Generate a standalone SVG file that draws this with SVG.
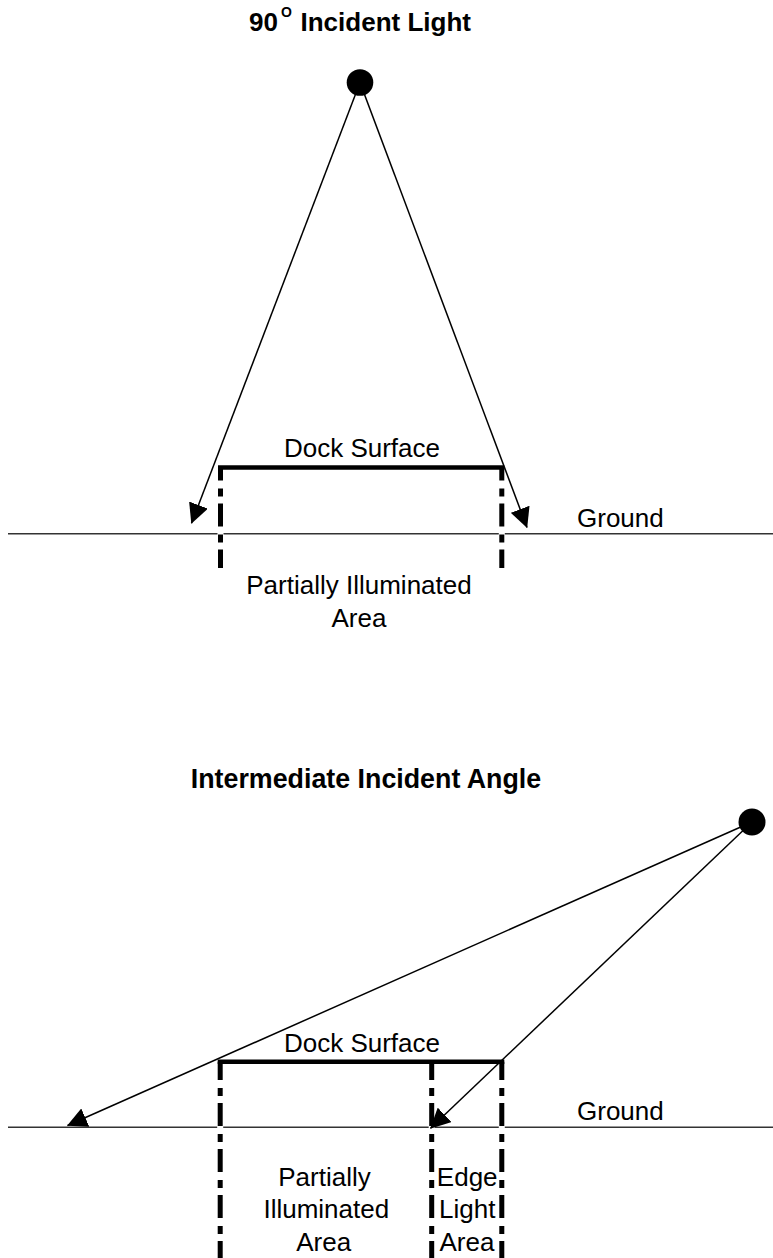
<svg xmlns="http://www.w3.org/2000/svg" width="773" height="1258" viewBox="0 0 773 1258">
<style>
.t{font-family:"Liberation Sans",Arial,Helvetica,sans-serif;font-size:26px;fill:#000}
.m{text-anchor:middle}
.b{font-weight:bold}
.ray{stroke:#000;stroke-width:1.5;fill:none;marker-end:url(#ah)}
.dock{stroke:#000;stroke-width:4.5;stroke-linecap:butt}
.edge{stroke:#000;stroke-width:5;stroke-dasharray:23 8 8 7}
.ground{stroke:#333;stroke-width:1.5}
</style>
<defs>
<marker id="ah" markerUnits="userSpaceOnUse" markerWidth="20" markerHeight="20" refX="19.5" refY="10" orient="auto" viewBox="0 0 20 20">
<path d="M0,0 L20,10 L0,20 z" fill="#000"/>
</marker>
</defs>
<rect width="773" height="1258" fill="#fff"/>

<!-- Top panel -->
<g id="title-top">
<text class="t b" x="249" y="31">90</text>
<text class="t b" x="281" y="17" style="font-size:14px">O</text>
<text class="t b" x="300.5" y="31">Incident Light</text>
</g>
<g id="ground-top">
<line class="ground" x1="8" y1="533.7" x2="217.5" y2="533.7"/>
<line class="ground" x1="223.5" y1="533.7" x2="498.8" y2="533.7"/>
<line class="ground" x1="504.8" y1="533.7" x2="773" y2="533.7"/>
<text class="t" x="577" y="527">Ground</text>
</g>
<g id="dock-top">
<line class="edge" x1="220.5" y1="467.5" x2="220.5" y2="568" stroke-dashoffset="10"/>
<line class="edge" x1="501.8" y1="467.5" x2="501.8" y2="568" stroke-dashoffset="10"/>
<line class="dock" x1="218" y1="467.5" x2="504.3" y2="467.5"/>
<text class="t m" x="362" y="457.3">Dock Surface</text>
</g>
<g id="area-top">
<text class="t m" x="359" y="594">Partially Illuminated</text>
<text class="t m" x="359" y="627">Area</text>
</g>
<g id="connectors-top">
<line class="ray" x1="360" y1="82.5" x2="191.5" y2="523.3"/>
<line class="ray" x1="360" y1="82.5" x2="527" y2="527.5"/>
</g>
<g id="light-top">
<circle cx="360" cy="82.5" r="13.3" fill="#000"/>
</g>

<!-- Bottom panel -->
<g id="title-bottom">
<text class="t b m" x="366" y="788" style="font-size:26.8px">Intermediate Incident Angle</text>
</g>
<g id="ground-bottom">
<line class="ground" x1="8" y1="1127.3" x2="217.2" y2="1127.3"/>
<line class="ground" x1="223.2" y1="1127.3" x2="428.7" y2="1127.3"/>
<line class="ground" x1="434.7" y1="1127.3" x2="498.8" y2="1127.3"/>
<line class="ground" x1="504.8" y1="1127.3" x2="773" y2="1127.3"/>
<text class="t" x="577" y="1120">Ground</text>
</g>
<g id="dock-bottom">
<line class="edge" x1="220.2" y1="1061.7" x2="220.2" y2="1258" stroke-dashoffset="4.7"/>
<line class="edge" x1="431.7" y1="1061.7" x2="431.7" y2="1258" stroke-dashoffset="4.7"/>
<line class="edge" x1="501.8" y1="1061.7" x2="501.8" y2="1258" stroke-dashoffset="4.7"/>
<line class="dock" x1="217.7" y1="1061.7" x2="504.3" y2="1061.7"/>
<text class="t m" x="362" y="1051.7">Dock Surface</text>
</g>
<g id="area-partial-bottom">
<text class="t m" x="324.5" y="1185.7">Partially</text>
<text class="t m" x="326.3" y="1218.3">Illuminated</text>
<text class="t m" x="323.7" y="1250.7">Area</text>
</g>
<g id="area-edge-bottom">
<text class="t m" x="467.2" y="1185.7">Edge</text>
<text class="t m" x="467.2" y="1218.3">Light</text>
<text class="t m" x="467" y="1250.7">Area</text>
</g>
<g id="connectors-bottom">
<line class="ray" x1="752" y1="822" x2="67.5" y2="1125.5"/>
<line class="ray" x1="752" y1="822" x2="430.5" y2="1128.3"/>
</g>
<g id="light-bottom">
<circle cx="752" cy="822" r="13.5" fill="#000"/>
</g>
</svg>
